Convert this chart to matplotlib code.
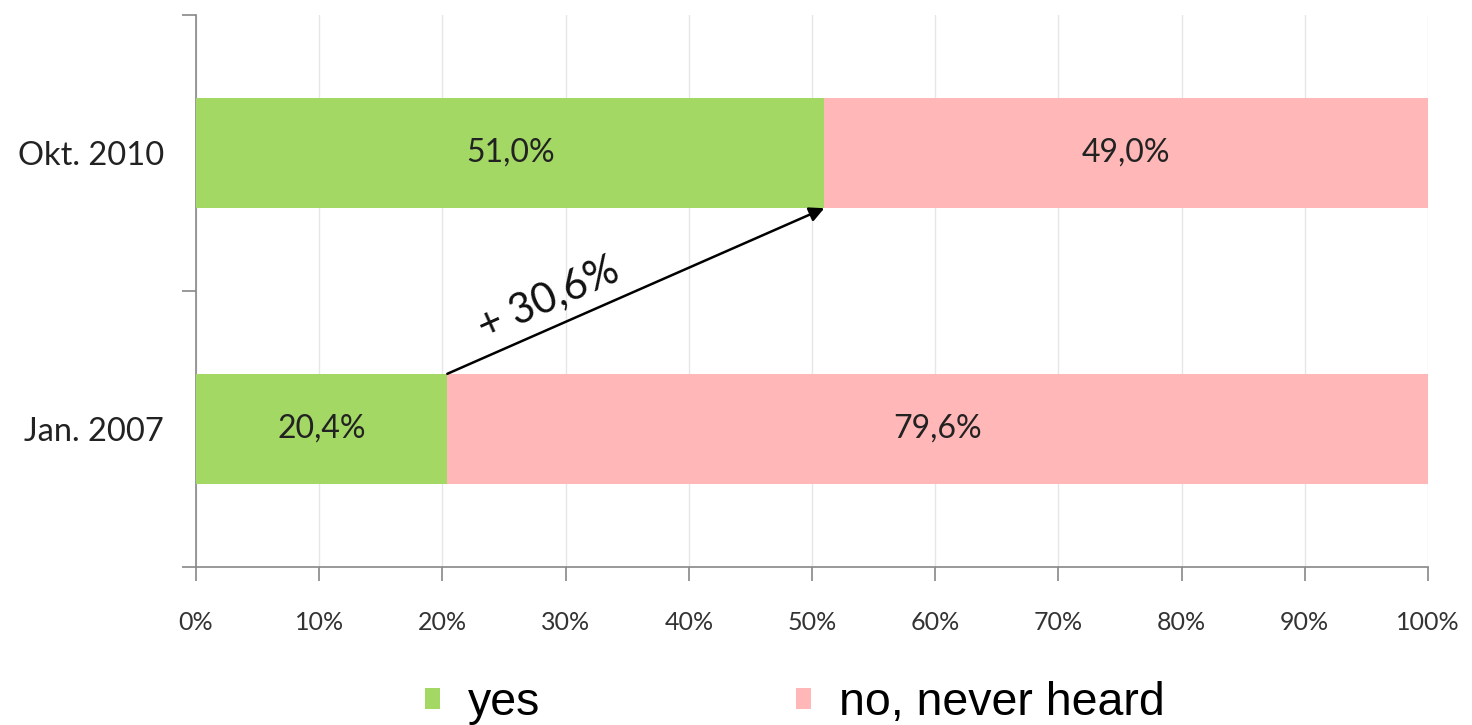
import matplotlib
matplotlib.use('Agg')
import matplotlib.pyplot as plt
import numpy as np

# survey data
periods = ['Jan. 2007', 'Okt. 2010']
yes_vals = [20.4, 51.0]
no_vals = [79.6, 49.0]
series_names = ['yes', 'no, never heard']
change_label = '+ 30,6%'

green = '#A3D865'
pink = '#FFB8B7'
lab_font = 'Lato'


def pct(v):
    return ('%.1f' % v).replace('.', ',') + '%'


fig = plt.figure(figsize=(14.72, 7.25), dpi=100)
ax = fig.add_axes([196/1472, 1-567/725, (1428-196)/1472, (567-15)/725])

ypos = np.arange(len(periods))
h = 0.4
b1 = ax.barh(ypos, yes_vals, height=h, color=green, label=series_names[0], zorder=3)
b2 = ax.barh(ypos, no_vals, left=yes_vals, height=h, color=pink, label=series_names[1], zorder=3)

for i in range(len(periods)):
    ax.text(yes_vals[i]/2, ypos[i], pct(yes_vals[i]), ha='center', va='center',
            fontsize=23, family=lab_font, color='#222222', zorder=4)
    ax.text(yes_vals[i] + no_vals[i]/2, ypos[i], pct(no_vals[i]), ha='center', va='center',
            fontsize=23, family=lab_font, color='#222222', zorder=4)

# arrow showing the change
ax.annotate('', xy=(yes_vals[1], ypos[1]-h/2), xytext=(yes_vals[0], ypos[0]+h/2),
            arrowprops=dict(arrowstyle='-|>', color='black', lw=1.8, mutation_scale=22,
                            shrinkA=0, shrinkB=0), zorder=5)
ax.text(28.6, 0.475, change_label, rotation=24, ha='center', va='center',
        fontsize=30, family=lab_font, color='#111111', zorder=5)

ax.set_xlim(0, 100)
ax.set_ylim(-0.5, 1.5)
ax.set_xticks(np.arange(0, 101, 10))
ax.set_xticklabels(['%d%%' % v for v in range(0, 101, 10)], family=lab_font, fontsize=18, color='#333333')
ax.set_yticks([-0.5, 0.5, 1.5])
ax.set_yticklabels([])
ax.set_yticks(ypos, minor=True)
ax.set_yticklabels(periods, minor=True, family=lab_font, fontsize=23.5, color='#222222')
ax.tick_params(axis='y', which='minor', length=0, pad=23)
ax.tick_params(axis='y', which='major', length=10, color='#888888', width=1.2)
ax.tick_params(axis='x', length=10, color='#888888', width=1.2, pad=22)

ax.xaxis.grid(True, color='#E6E6E6', lw=1, zorder=0)
for s in ['top', 'right']:
    ax.spines[s].set_visible(False)
ax.spines['left'].set_color('#888888')
ax.spines['bottom'].set_color('#888888')
ax.spines['left'].set_linewidth(1.2)
ax.spines['bottom'].set_linewidth(1.2)

fig.legend(handles=[b1, b2], labels=series_names, loc='center', bbox_to_anchor=(795/1472, 1-703/725),
           ncol=2, frameon=False, prop={'family': 'Liberation Sans', 'size': 33.5},
           handlelength=0.32, handleheight=0.32, handletextpad=0.6, columnspacing=5.5)

fig.savefig('out.png', dpi=100)
